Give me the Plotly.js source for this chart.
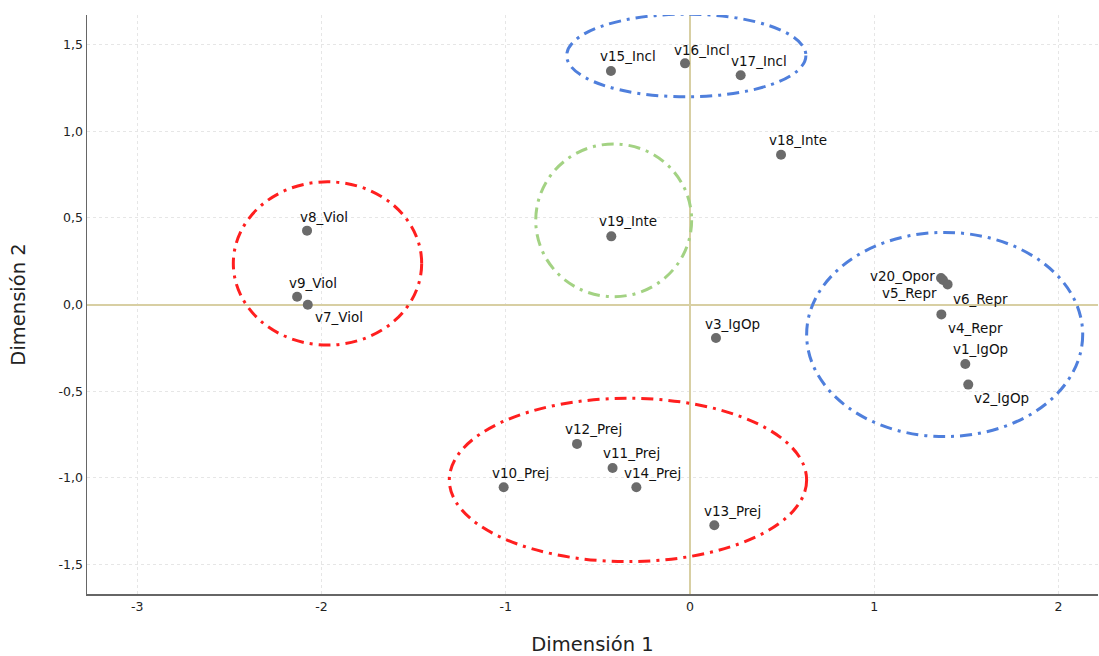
<!DOCTYPE html>
<html>
<head>
<meta charset="utf-8">
<script src="https://cdn.plot.ly/plotly-3.0.1.min.js"></script>
<style>html,body{margin:0;padding:0;background:#fff;}#chart{width:1099px;height:656px;}</style>
</head>
<body>
<div id="chart"></div>
<script>
// ---- data ----
const labels = ["v1_IgOp","v2_IgOp","v3_IgOp","v4_Repr","v5_Repr","v6_Repr","v7_Viol","v8_Viol","v9_Viol","v10_Prej",
                "v11_Prej","v12_Prej","v13_Prej","v14_Prej","v15_Incl","v16_Incl","v17_Incl","v18_Inte","v19_Inte","v20_Opor"];
const dim1 = [1.494, 1.510, 0.141, 1.364, 1.373, 1.398, -2.074, -2.078, -2.132, -1.011,
              -0.420, -0.613, 0.132, -0.291, -0.429, -0.027, 0.275, 0.494, -0.427, 1.362];
const dim2 = [-0.343, -0.462, -0.193, -0.057, 0.141, 0.116, -0.001, 0.426, 0.045, -1.054,
              -0.943, -0.804, -1.273, -1.054, 1.347, 1.391, 1.322, 0.864, 0.393, 0.153];

// group ellipses (data units)
const groupX0 = [-0.669, -0.837, -2.478, 0.633, -1.306];
const groupX1 = [0.629, 0.009, -1.456, 2.131, 0.633];
const groupY0 = [1.198, 0.045, -0.234, -0.762, -1.483];
const groupY1 = [1.675, 0.926, 0.708, 0.416, -0.541];
const groupColor = ["#4f7fdc", "#a3d283", "#ff1f1f", "#4f7fdc", "#ff1f1f"];

const xTickVals = [-3, -2, -1, 0, 1, 2];
const xTickText = ["-3", "-2", "-1", "0", "1", "2"];
const yTickVals = [-1.5, -1, -0.5, 0, 0.5, 1, 1.5];
const yTickText = ["-1,5", "-1,0", "-0,5", "0,0", "0,5", "1,0", "1,5"];

// ---- label placement (pixel offsets) ----
const labelAnchor = ["left","left","left","left","right","left","left","left","left","left",
                     "left","left","left","left","left","left","left","left","left","right"];
const labelDx = [-14, 4, -13, 5, -4, 3, 5, -9, -10, -14, -12, -14, -12, -14, -13, -13, -12, -14, -14, -4];
const labelDy = [14.5, -13.5, 14, -14, -13, -15, -12, 14, 14, 14, 14.5, 14.5, 14.5, 14, 15, 13.5, 14.5, 14.5, 15, 1.5];

const font = "DejaVu Sans, sans-serif";

const trace = {
  x: dim1, y: dim2, mode: "markers", type: "scatter",
  marker: {size: 10, color: "#6b6b6b"},
  hoverinfo: "text", text: labels, cliponaxis: false
};

const annotations = labels.map((t, i) => ({
  x: dim1[i], y: dim2[i], xref: "x", yref: "y", text: t, showarrow: false,
  xanchor: labelAnchor[i], yanchor: "middle", xshift: labelDx[i], yshift: labelDy[i],
  font: {family: font, size: 13.5, color: "#111"}
}));

const shapes = groupX0.map((x0, i) => ({
  type: "circle", xref: "x", yref: "y",
  x0: x0, x1: groupX1[i], y0: groupY0[i], y1: groupY1[i],
  line: {color: groupColor[i], width: 3, dash: "12px,6px,3px,6px"}
}));

const layout = {
  width: 1099, height: 656,
  margin: {l: 87, r: 1, t: 15, b: 62},
  paper_bgcolor: "#fff", plot_bgcolor: "#fff",
  showlegend: false,
  font: {family: font, color: "#222"},
  xaxis: {
    range: [-3.272, 2.214], tickvals: xTickVals, ticktext: xTickText,
    showgrid: true, gridcolor: "#e6e6e6", griddash: "3px,3px", gridwidth: 1,
    zeroline: true, zerolinecolor: "#d8cfa3", zerolinewidth: 2,
    showline: true, linecolor: "#666", linewidth: 1.5, mirror: false,
    ticks: "", tickfont: {family: font, size: 12.5, color: "#222"},
    title: {text: "Dimensión 1", font: {family: font, size: 19.5, color: "#222"}, standoff: 27}
  },
  yaxis: {
    range: [-1.670, 1.670], tickvals: yTickVals, ticktext: yTickText,
    showgrid: true, gridcolor: "#e6e6e6", griddash: "3px,3px", gridwidth: 1,
    zeroline: true, zerolinecolor: "#d8cfa3", zerolinewidth: 2,
    showline: true, linecolor: "#666", linewidth: 1.5, mirror: false,
    ticks: "", tickfont: {family: font, size: 12.5, color: "#222"},
    title: {text: "Dimensión 2", font: {family: font, size: 19.5, color: "#222"}, standoff: 28}
  },
  shapes: shapes,
  annotations: annotations
};

Plotly.newPlot("chart", [trace], layout, {displayModeBar: false, staticPlot: true});
</script>
</body>
</html>
